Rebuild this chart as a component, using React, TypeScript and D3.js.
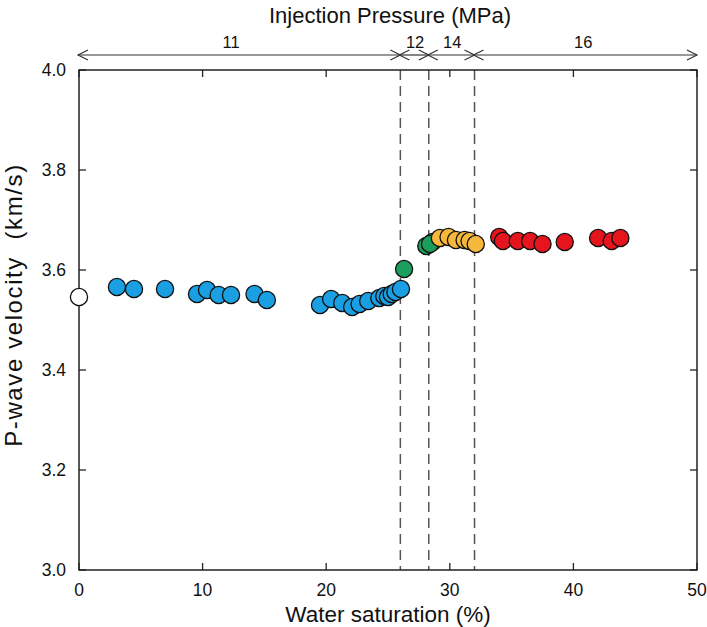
import React from "react";
import * as d3 from "d3";

const initialX = [0];
const initialV = [3.546];

const blueX = [3.07, 4.45, 6.96, 9.55, 10.36, 11.3, 12.3, 14.2, 15.2, 19.5, 20.4, 21.3, 22.1, 22.7, 23.4, 24.3, 24.7, 25.0, 25.3, 25.6, 26.05];
const blueV = [3.566, 3.562, 3.562, 3.552, 3.56, 3.55, 3.55, 3.552, 3.54, 3.53, 3.542, 3.534, 3.526, 3.532, 3.538, 3.544, 3.548, 3.546, 3.552, 3.556, 3.562];

const greenX = [26.3, 28.1, 28.6, 28.4];
const greenV = [3.602, 3.648, 3.656, 3.652];

const yellowX = [29.2, 29.9, 30.5, 31.2, 31.6, 32.1];
const yellowV = [3.664, 3.666, 3.66, 3.66, 3.658, 3.652];

const redX = [34.0, 34.3, 35.5, 36.5, 37.5, 39.3, 42.0, 43.1, 43.8];
const redV = [3.666, 3.658, 3.658, 3.658, 3.652, 3.656, 3.664, 3.658, 3.664];

const xTicks = [0, 10, 20, 30, 40, 50];
const yTicks = [3.0, 3.2, 3.4, 3.6, 3.8, 4.0];

const boundaries = [26, 28.3, 32];
const pressureLabels = ["11", "12", "14", "16"];
const pressureEdges = [0, 26, 28.3, 32, 50];

const W = 707, H = 627;
const left = 79, right = 697, top = 70, bottom = 570;
const font = "'Liberation Sans', Arial, Helvetica, sans-serif";

export default function App() {
  const x = d3.scaleLinear().domain([0, 50]).range([left, right]);
  const y = d3.scaleLinear().domain([3.0, 4.0]).range([bottom, top]);

  const series = [
    { xs: initialX, vs: initialV, fill: "#ffffff" },
    { xs: blueX, vs: blueV, fill: "#1a9fe3" },
    { xs: greenX, vs: greenV, fill: "#1b9e5b" },
    { xs: yellowX, vs: yellowV, fill: "#f6b83c" },
    { xs: redX, vs: redV, fill: "#e5141d" },
  ];

  const arrowY = 55;
  const tickLen = 7;

  return (
    <svg width={W} height={H} style={{ position: "absolute", left: 0, top: 0 }} fontFamily={font}>
      <rect x={0} y={0} width={W} height={H} fill="#fff" />
      <text x={390} y={23} fontSize={22} textAnchor="middle" fill="#111">Injection Pressure (MPa)</text>

      {pressureLabels.map((lab, i) => {
        const x0 = x(pressureEdges[i]) - 1;
        const x1 = x(pressureEdges[i + 1]);
        return (
          <g key={lab}>
            <line x1={x0} x2={x1} y1={arrowY} y2={arrowY} stroke="#333" strokeWidth={1.2} />
            <polyline points={`${x0 + 10},${arrowY - 5} ${x0},${arrowY} ${x0 + 10},${arrowY + 5}`} fill="none" stroke="#333" strokeWidth={1.2} />
            <polyline points={`${x1 - 10},${arrowY - 5} ${x1},${arrowY} ${x1 - 10},${arrowY + 5}`} fill="none" stroke="#333" strokeWidth={1.2} />
            <text x={(x0 + x1) / 2 + (i === 0 ? -8 : i === 3 ? -2 : 1)} y={48} fontSize={16.5} textAnchor="middle" fill="#111">{lab}</text>
          </g>
        );
      })}

      {boundaries.map((b) => (
        <line key={b} x1={x(b)} x2={x(b)} y1={top} y2={bottom} stroke="#555" strokeWidth={1.5} strokeDasharray="10,6" />
      ))}

      <rect x={left} y={top} width={right - left} height={bottom - top} fill="none" stroke="#222" strokeWidth={1.5} />

      {xTicks.map((t) => (
        <g key={"x" + t}>
          <line x1={x(t)} x2={x(t)} y1={bottom} y2={bottom - tickLen} stroke="#222" strokeWidth={1.3} />
          <line x1={x(t)} x2={x(t)} y1={top} y2={top + tickLen} stroke="#222" strokeWidth={1.3} />
          <text x={x(t)} y={596} fontSize={17.5} textAnchor="middle" fill="#111">{t}</text>
        </g>
      ))}
      {yTicks.map((t) => (
        <g key={"y" + t}>
          <line x1={left} x2={left + tickLen} y1={y(t)} y2={y(t)} stroke="#222" strokeWidth={1.3} />
          <line x1={right} x2={right - tickLen} y1={y(t)} y2={y(t)} stroke="#222" strokeWidth={1.3} />
          <text x={66} y={y(t) + 6} fontSize={17.5} textAnchor="end" fill="#111">{t.toFixed(1)}</text>
        </g>
      ))}

      <text x={388} y={622} fontSize={22.5} textAnchor="middle" fill="#111">Water saturation (%)</text>
      <text transform={`translate(22,${305}) rotate(-90)`} fontSize={24} letterSpacing={1.6} textAnchor="middle" fill="#111" style={{ whiteSpace: "pre" }}>
        P-wave velocity{"\u00a0\u00a0"}(km/s)
      </text>

      {series.map((s, si) => (
        <g key={si}>
          {s.xs.map((xv, i) => (
            <circle key={i} cx={x(xv)} cy={y(s.vs[i])} r={8.6} fill={s.fill} stroke="#111" strokeWidth={1.3} />
          ))}
        </g>
      ))}
    </svg>
  );
}
